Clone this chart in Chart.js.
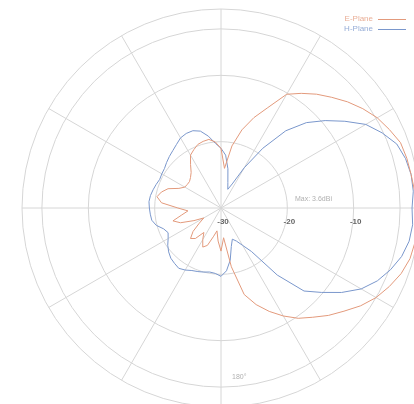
<!DOCTYPE html>
<html>
<head>
<meta charset="utf-8">
<script src="https://cdn.jsdelivr.net/npm/chart.js@4/dist/chart.umd.min.js"></script>
<style>
html,body{margin:0;padding:0;background:#fff;overflow:hidden;width:414px;height:404px;}
#wrap{position:relative;width:414px;height:404px;overflow:hidden;}
canvas{position:absolute;left:0;top:0;}
</style>
</head>
<body>
<div id="wrap"><canvas id="c" width="442" height="416"></canvas></div>
<script>
// Angles in degrees, counter-clockwise from the right-hand horizontal axis
const angles = [0,5,10,15,20,25,30,35,40,45,50,55,60,65,70,75,80,85,90,95,100,105,110,115,
  120,125,130,135,140,145,150,155,160,165,170,175,180,185,190,195,200,205,210,215,220,225,230,235,
  240,245,250,255,260,265,270,275,280,285,290,295,300,305,310,315,320,325,330,335,340,345,350,355];

// E-plane gain (dB), same order as angles
const ePlane = [-0.5,-0.7,-0.9,-1.0,-1.2,-2.0,-2.8,-3.9,-5.1,-6.4,-7.6,-8.9,-10.2,-13.3,-15.5,-17.8,-20.5,-24,
  -21,-20,-19.5,-19.6,-19.8,-20.3,-20.8,-22,-23,-23.5,-23.8,-23.8,-23.7,-23,-21.5,-20.7,-20.2,-21,
  -23.5,-25,-24,-22.5,-23.5,-25.5,-27,-26,-24.5,-23.5,-24,-25.5,-24.5,-23.5,-24,-25.5,-26.5,-25,
  -23.5,-25.5,-21,-16.5,-14.5,-12.8,-11.2,-9.7,-8.5,-7.1,-5.8,-4.3,-3,-2,-1.1,-0.5,-0.3,-0.3];

// H-plane gain (dB), same order as angles
const hPlane = [-1.2,-0.9,-0.9,-1.2,-1.8,-3.2,-4.8,-7.2,-9.5,-11.8,-14.8,-19,-23,-26,-27,-26,-24,-22,
  -21,-20.2,-19,-18,-17.6,-17.6,-17.8,-18.3,-18.7,-19,-19.3,-19.6,-19.7,-19.8,-19.6,-19.4,-19.2,-19.1,
  -19.2,-19.3,-19.4,-19.9,-20.8,-21.2,-20.8,-20.2,-19.7,-19.3,-19.1,-18.9,-19.2,-19.6,-19.8,-20,-20.2,-20.1,
  -19.7,-20.5,-22,-24,-25,-24.5,-23.5,-22,-16.8,-12.3,-10.2,-7.8,-5.6,-4,-2.8,-1.8,-1.2,-1.0];

const seriesNames = ['E-Plane','H-Plane'];
const ringTicks = [-30,-20,-10,-3,0];
const ringLabels = [-30,-20,-10];
const noteText = 'Max: 3.6dBi';
const bottomText = '180°';

const colors = ['#e39a7c','#7a97cc'];

// Chart.js radar runs clockwise from startAngle; reorder (CCW math angles -> clockwise index)
const n = angles.length;
const order = angles.map((a, i) => (n - i) % n);
const labels = order.map(k => String(angles[k]));
const eData = order.map(k => ePlane[k]);
const hData = order.map(k => hPlane[k]);

const overlay = {
  id: 'overlay',
  afterDraw(chart) {
    const s = chart.scales.r;
    const ctx = chart.ctx;
    ctx.save();
    ctx.font = 'bold 8px "Liberation Sans", Arial, sans-serif';
    ctx.fillStyle = '#666';
    ctx.textAlign = 'center';
    ctx.textBaseline = 'middle';
    ringLabels.forEach(v => {
      const d = s.getDistanceFromCenterForValue(v);
      ctx.fillText(String(v), s.xCenter + d + 2, s.yCenter + 14);
    });
    ctx.font = '7px "Liberation Sans", Arial, sans-serif';
    ctx.fillStyle = '#b0b0b0';
    ctx.textAlign = 'left';
    ctx.fillText(noteText, s.xCenter + 74, s.yCenter - 9);
    ctx.fillText(bottomText, s.xCenter + 11, s.yCenter + 169);
    // legend
    ctx.textAlign = 'right';
    ctx.font = '8px "Liberation Sans", Arial, sans-serif';
    seriesNames.forEach((name, i) => {
      const y = 19 + i * 10;
      ctx.fillStyle = colors[i];
      ctx.globalAlpha = 0.8;
      ctx.fillText(name, 373, y);
      ctx.globalAlpha = 1;
      ctx.strokeStyle = colors[i];
      ctx.lineWidth = 1;
      ctx.beginPath();
      ctx.moveTo(378, y + 0.5);
      ctx.lineTo(406, y + 0.5);
      ctx.stroke();
    });
    ctx.restore();
  }
};

new Chart(document.getElementById('c'), {
  type: 'radar',
  data: {
    labels: labels,
    datasets: [
      { label: seriesNames[0], data: eData, borderColor: colors[0], borderWidth: 1, fill: false, pointRadius: 0, tension: 0 },
      { label: seriesNames[1], data: hData, borderColor: colors[1], borderWidth: 1, fill: false, pointRadius: 0, tension: 0 }
    ]
  },
  options: {
    responsive: false,
    animation: false,
    devicePixelRatio: 1,
    layout: { padding: { left: 22, right: 22, top: 9, bottom: 9 } },
    plugins: { legend: { display: false }, tooltip: { enabled: false } },
    elements: { line: { borderWidth: 1 } },
    scales: {
      r: {
        min: -30, max: 0,
        startAngle: 90,
        afterBuildTicks: (sc) => { sc.ticks = ringTicks.map(v => ({ value: v })); },
        ticks: { display: false },
        pointLabels: { display: false },
        grid: { circular: true, color: '#d6d6d6', lineWidth: 1 },
        angleLines: {
          color: '#d6d6d6',
          lineWidth: (c) => (c.index % 6 === 0 ? 1 : 0)
        }
      }
    }
  },
  plugins: [overlay]
});
</script>
</body>
</html>
